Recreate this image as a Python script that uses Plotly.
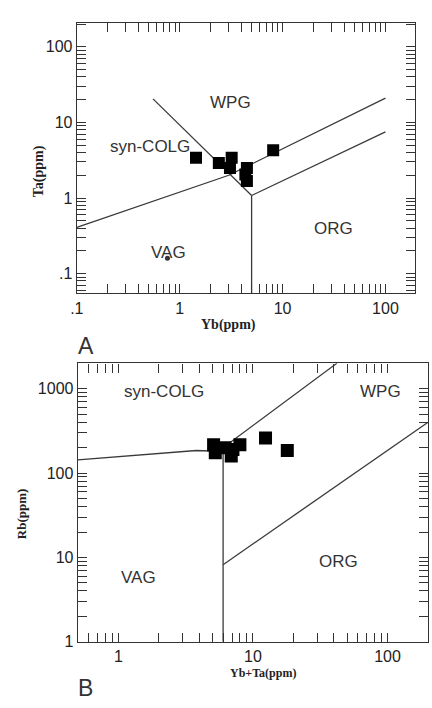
import numpy as np
import plotly.graph_objects as go

W, H = 432, 708

# ---------- Panel A: Ta vs Yb ----------
a_yb = [1.44, 2.4, 3.2, 3.08, 4.5, 4.35, 4.5, 8.1]
a_ta = [3.4, 2.9, 3.4, 2.5, 2.5, 2.04, 1.68, 4.3]
a_dot_x = [0.76]
a_dot_y = [0.16]
# boundaries
a_b1_x = [0.1, 3.0, 100]      # VAG+syn-COLG / WPG+ORG
a_b1_y = [0.41, 2.0, 21]
a_b2_x = [0.55, 5.0]          # syn-COLG / WPG
a_b2_y = [20.5, 1.08]
a_b3_x = [5.0, 100]           # WPG / ORG
a_b3_y = [1.08, 7.5]
a_b4_x = [5.0, 5.0]           # VAG / ORG
a_b4_y = [0.055, 1.08]
a_labels = ["WPG", "syn-COLG", "ORG", "VAG"]
a_lab_x = [3.1, 0.51, 31.6, 0.77]
a_lab_y = [18.6, 4.8, 0.39, 0.19]

# ---------- Panel B: Rb vs Yb+Ta ----------
b_ybta = [5.1, 5.25, 6.2, 6.9, 7.1, 8.0, 12.4, 18.0]
b_rb = [217, 174, 200, 159, 190, 217, 260, 185]
b_b1_x = [0.5, 3.8, 6.0]      # VAG / syn-COLG
b_b1_y = [143, 185, 180]
b_b2_x = [6.0, 42]            # syn-COLG / WPG
b_b2_y = [200, 2000]
b_b3_x = [6.0, 6.0]           # VAG / WPG+ORG
b_b3_y = [1, 185]
b_b4_x = [6.0, 200]           # WPG / ORG
b_b4_y = [8.2, 400]
b_labels = ["syn-COLG", "WPG", "ORG", "VAG"]
b_lab_x = [2.2, 89, 43, 1.4]
b_lab_y = [920, 920, 9, 5.8]

# tick labels
a_ticks = [0.1, 1, 10, 100]
a_ticktext = [".1", "1", "10", "100"]
b_xticks = [1, 10, 100]
b_xticktext = ["1", "10", "100"]
b_yticks = [1, 10, 100, 1000]
b_yticktext = ["1", "10", "100", "1000"]

LINE = dict(color="#3a3a3a", width=1.3)

fig = go.Figure()

def add_line(x, y, xa, ya):
    fig.add_trace(go.Scatter(x=x, y=y, mode="lines", line=LINE,
                             xaxis=xa, yaxis=ya, showlegend=False, hoverinfo="skip"))

for bx, by in [(a_b1_x, a_b1_y), (a_b2_x, a_b2_y), (a_b3_x, a_b3_y), (a_b4_x, a_b4_y)]:
    add_line(bx, by, "x", "y")
fig.add_trace(go.Scatter(x=a_yb, y=a_ta, mode="markers",
                         marker=dict(symbol="square", size=12, color="black"),
                         xaxis="x", yaxis="y", showlegend=False))
fig.add_trace(go.Scatter(x=a_dot_x, y=a_dot_y, mode="markers",
                         marker=dict(symbol="circle", size=5, color="#333"),
                         xaxis="x", yaxis="y", showlegend=False))

for bx, by in [(b_b1_x, b_b1_y), (b_b2_x, b_b2_y), (b_b3_x, b_b3_y), (b_b4_x, b_b4_y)]:
    add_line(bx, by, "x2", "y2")
fig.add_trace(go.Scatter(x=b_ybta, y=b_rb, mode="markers",
                         marker=dict(symbol="square", size=13, color="black"),
                         xaxis="x2", yaxis="y2", showlegend=False))

TICKFONT = dict(family="Liberation Sans, Arial, sans-serif", size=16, color="#222")

def with_minor(majors, labels, lo, hi):
    vals, text = list(majors), list(labels)
    for e in range(lo, hi + 1):
        for d in range(2, 10):
            vals.append(d * 10.0 ** e)
            text.append("")
    return vals, text

def axis(domain, rng, anchor, majors, labels, lo, hi):
    vals, text = with_minor(majors, labels, lo, hi)
    return dict(type="log", domain=domain, range=rng, anchor=anchor,
                tickmode="array", tickvals=vals, ticktext=text,
                ticks="inside", ticklen=9, tickwidth=1.1, tickcolor="#333",
                showline=True, linecolor="#333", linewidth=1.4, mirror="allticks",
                showgrid=False, zeroline=False, tickfont=TICKFONT)

xa_dom, xa_rng = [71/W, 415/W], [-1.0, 2.29]
ya_dom, ya_rng = [1-297/H, 1-23/H], [-1.26, 2.32]
xb_dom, xb_rng = [72/W, 428/W], [np.log10(0.5), np.log10(200)]
yb_dom, yb_rng = [1-650/H, 1-368/H], [0, np.log10(2000)]

fig.update_layout(
    width=W, height=H, margin=dict(l=0, r=0, t=0, b=0),
    paper_bgcolor="white", plot_bgcolor="white",
    xaxis=axis(xa_dom, xa_rng, "y", a_ticks, a_ticktext, -1, 2),
    yaxis=axis(ya_dom, ya_rng, "x", a_ticks, a_ticktext, -2, 2),
    xaxis2=axis(xb_dom, xb_rng, "y2", b_xticks, b_xticktext, -1, 2),
    yaxis2=axis(yb_dom, yb_rng, "x2", b_yticks, b_yticktext, 0, 3),
)

ann = []
LABFONT = dict(family="Liberation Sans, Arial, sans-serif", size=17, color="#333")
for t, x, y in zip(a_labels, a_lab_x, a_lab_y):
    ann.append(dict(text=t, x=np.log10(x), y=np.log10(y), xref="x", yref="y",
                    showarrow=False, font=LABFONT))
for t, x, y in zip(b_labels, b_lab_x, b_lab_y):
    ann.append(dict(text=t, x=np.log10(x), y=np.log10(y), xref="x2", yref="y2",
                    showarrow=False, font=LABFONT))

TITLEFONT = dict(family="Liberation Serif, Times New Roman, serif", size=14, color="#222")

def pann(text, px, py, font, angle=0):
    return dict(text=text, x=px/W, y=1-py/H, xref="paper", yref="paper",
                xanchor="center", yanchor="middle", showarrow=False,
                font=font, textangle=angle)

LETTER = dict(family="Liberation Sans, Arial, sans-serif", size=23, color="#333")
ann += [
    pann("<b>Yb(ppm)</b>", 225, 329, TITLEFONT),
    pann("<b>Ta(ppm)</b>", 32, 173, TITLEFONT, -90),
    pann("<b>Yb+Ta(ppm)</b>", 260, 682, dict(TITLEFONT, size=12)),
    pann("<b>Rb(ppm)</b>", 15, 520, dict(TITLEFONT, size=13), -90),
    pann("A", 80, 350, LETTER),
    pann("B", 80, 697, LETTER),
]
fig.update_layout(annotations=ann)

fig.write_html("out.html")
